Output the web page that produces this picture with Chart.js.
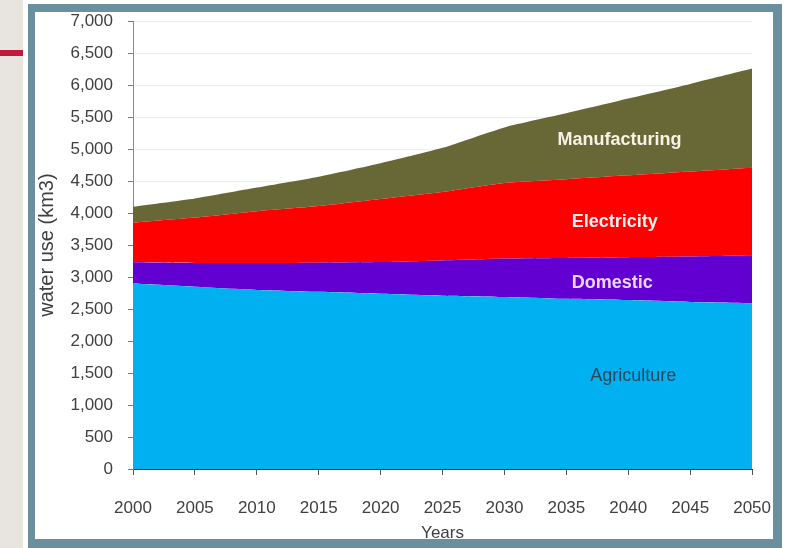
<!DOCTYPE html>
<html lang="en">
<head>
    <meta charset="UTF-8">
    <title>Water use by sector, 2000-2050</title>
    <style>
        html, body {
            margin: 0;
            padding: 0;
            width: 786px;
            height: 548px;
            overflow: hidden;
            background: #ffffff;
            font-family: "Liberation Sans", Arial, sans-serif;
        }
        .side {
            position: absolute;
            left: 0; top: 0;
            width: 23px; height: 548px;
            background: #e8e4e0;
        }
        .accent {
            position: absolute;
            left: 0; top: 50px;
            width: 23px; height: 6px;
            background: #c2173f;
        }
        /* canvas is a bit larger than the frame so that the tick-label
           overhang Chart.js reserves falls under the border */
        .chart-box {
            position: absolute;
            left: 35px; top: -4px;
            width: 759px; height: 552px;
        }
        .frame {
            position: absolute;
            left: 28px; top: 4px;
            width: 754px; height: 544px;
            box-sizing: border-box;
            border-style: solid;
            border-color: #6a8f9e;
            border-width: 8px 9px 9px 7px;
            pointer-events: none;
        }
        .outer-top {
            position: absolute;
            left: 23px; top: 0;
            width: 763px; height: 4px;
            background: #ffffff;
        }
        .outer-right {
            position: absolute;
            left: 782px; top: 0;
            width: 4px; height: 548px;
            background: #ffffff;
        }
    </style>
    <script src="https://cdn.jsdelivr.net/npm/chart.js"></script>
</head>
<body>
    <div class="side"></div>
    <div class="accent"></div>
    <div class="chart-box"><canvas id="waterChart"></canvas></div>
    <div class="outer-top"></div>
    <div class="outer-right"></div>
    <div class="frame"></div>

    <script>
        // Data (km3 per sector, stacked)
        const years = [2000, 2005, 2010, 2015, 2020, 2025, 2030, 2035, 2040, 2045, 2050];
        const agriculture   = [2900, 2850, 2800, 2770, 2740, 2710, 2690, 2660, 2640, 2610, 2590];
        const domestic      = [330, 370, 420, 455, 495, 550, 600, 640, 670, 710, 750];
        const electricity   = [620, 710, 810, 885, 985, 1070, 1180, 1230, 1280, 1330, 1370];
        const manufacturing = [250, 300, 370, 460, 560, 690, 870, 1030, 1200, 1370, 1550];

        // in-chart sector labels: [name, year, value]
        const sectorLabels = [
            ['Manufacturing', 2039.3, 5140],
            ['Electricity', 2038.9, 3860],
            ['Domestic', 2038.7, 2906],
            ['Agriculture', 2040.4, 1453]
        ];
        const labelStyles = {
            Manufacturing: { color: '#f6f2e6', weight: 'bold' },
            Electricity: { color: '#fff0f0', weight: 'bold' },
            Domestic: { color: '#ecd6ff', weight: 'bold' },
            Agriculture: { color: '#27475e', weight: 'normal' }
        };

        const toPoints = arr => arr.map((v, i) => ({ x: years[i], y: v }));

        const areaLabels = {
            id: 'areaLabels',
            afterDatasetsDraw(chart) {
                const { ctx, scales } = chart;
                ctx.save();
                ctx.textAlign = 'center';
                ctx.textBaseline = 'middle';
                sectorLabels.forEach(([name, yr, val]) => {
                    const st = labelStyles[name];
                    ctx.font = st.weight + ' 18px "Liberation Sans", Arial, sans-serif';
                    ctx.fillStyle = st.color;
                    ctx.fillText(name, scales.x.getPixelForValue(yr), scales.y.getPixelForValue(val));
                });
                ctx.restore();
            }
        };

        const area = (label, data, color, fill) => ({
            label,
            data: toPoints(data),
            backgroundColor: color,
            borderColor: color,
            borderWidth: 0,
            pointRadius: 0,
            fill,
            tension: 0.2
        });

        const ctx = document.getElementById('waterChart').getContext('2d');
        new Chart(ctx, {
            type: 'line',
            data: {
                datasets: [
                    area('Agriculture', agriculture, '#00b0f0', 'origin'),
                    area('Domestic', domestic, '#6200d2', '-1'),
                    area('Electricity', electricity, '#ff0000', '-1'),
                    area('Manufacturing', manufacturing, '#686736', '-1')
                ]
            },
            options: {
                responsive: true,
                maintainAspectRatio: false,
                animation: false,
                layout: { padding: 0 },
                plugins: {
                    legend: { display: false },
                    tooltip: { enabled: false }
                },
                scales: {
                    x: {
                        type: 'linear',
                        min: 2000,
                        max: 2050,
                        afterFit(scale) { scale.height = 79; },
                        border: { color: '#333333', width: 1 },
                        grid: { drawOnChartArea: false, tickLength: 6, tickColor: '#555555' },
                        ticks: {
                            stepSize: 5,
                            padding: 23,
                            color: '#404040',
                            font: { size: 17, family: '"Liberation Sans", Arial, sans-serif' },
                            callback: v => String(v)
                        },
                        title: {
                            display: true,
                            text: 'Years',
                            color: '#404040',
                            padding: { top: 0, bottom: 4 },
                            font: { size: 17, family: '"Liberation Sans", Arial, sans-serif' }
                        }
                    },
                    y: {
                        stacked: true,
                        min: 0,
                        max: 7000,
                        afterFit(scale) { scale.width = 98; },
                        border: { color: '#8a8a8a', width: 1 },
                        grid: { color: '#eeeeee', tickLength: 5, tickColor: '#777777' },
                        ticks: {
                            stepSize: 500,
                            padding: 15,
                            color: '#404040',
                            font: { size: 17, family: '"Liberation Sans", Arial, sans-serif' },
                            callback: v => v.toLocaleString('en-US')
                        },
                        title: {
                            display: true,
                            text: 'water use (km3)',
                            color: '#404040',
                            padding: { top: 0, bottom: 0 },
                            font: { size: 20, family: '"Liberation Sans", Arial, sans-serif' }
                        }
                    }
                }
            },
            plugins: [areaLabels]
        });
    </script>
</body>
</html>
